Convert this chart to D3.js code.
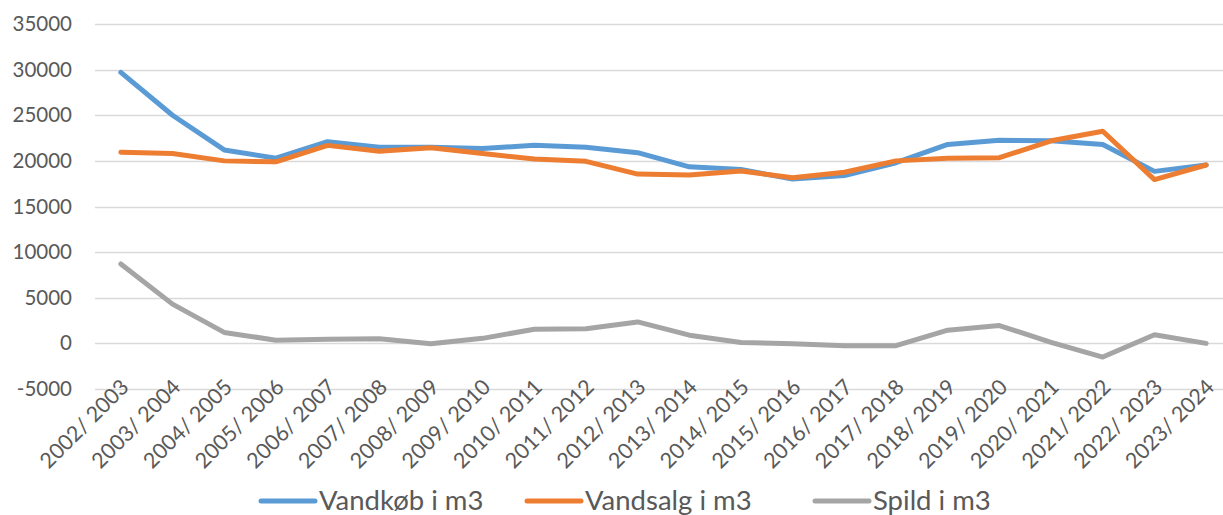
<!DOCTYPE html>
<html>
<head>
<meta charset="utf-8">
<script src="https://cdn.jsdelivr.net/npm/d3@7"></script>
<style>
  body { margin: 0; background: #fff; }
  svg text { font-family: Lato, "Open Sans", sans-serif; fill: #595959; }
</style>
</head>
<body>
<div id="chart"></div>
<script>
var seasons = ["2002/ 2003", "2003/ 2004", "2004/ 2005", "2005/ 2006", "2006/ 2007", "2007/ 2008",
  "2008/ 2009", "2009/ 2010", "2010/ 2011", "2011/ 2012", "2012/ 2013", "2013/ 2014", "2014/ 2015",
  "2015/ 2016", "2016/ 2017", "2017/ 2018", "2018/ 2019", "2019/ 2020", "2020/ 2021", "2021/ 2022",
  "2022/ 2023", "2023/ 2024"];
var vandkob = [29700, 25000, 21200, 20300, 22100, 21500, 21500, 21350, 21700, 21500, 20900, 19350,
  19050, 18000, 18400, 19800, 21800, 22250, 22200, 21800, 18850, 19550];
var vandsalg = [20950, 20800, 20000, 19900, 21700, 21050, 21450, 20800, 20200, 19950, 18550, 18450,
  18900, 18150, 18750, 20000, 20300, 20350, 22200, 23250, 17950, 19550];
var spild = [8700, 4300, 1200, 350, 450, 500, -50, 550, 1550, 1600, 2350, 900,
  100, -50, -250, -250, 1450, 1950, 100, -1500, 950, 0];
var yTicks = [-5000, 0, 5000, 10000, 15000, 20000, 25000, 30000, 35000];
var seriesNames = ["Vandkøb i m3", "Vandsalg i m3", "Spild i m3"];
var seriesColors = ["#5B9BD5", "#ED7D31", "#A5A5A5"];

var width = 1223, height = 515;
var plot = { left: 95, right: 1232, top: 24, bottom: 389 };

var svg = d3.select("#chart").append("svg")
  .attr("width", width)
  .attr("height", height);

var x = d3.scaleBand()
  .domain(seasons)
  .range([plot.left, plot.right]);
var y = d3.scaleLinear()
  .domain([-5000, 35000])
  .range([plot.bottom, plot.top]);

// horizontal gridlines
svg.append("g")
  .selectAll("line")
  .data(yTicks)
  .enter().append("line")
  .attr("x1", plot.left)
  .attr("x2", width)
  .attr("y1", function (d) { return Math.round(y(d)) + 0.5; })
  .attr("y2", function (d) { return Math.round(y(d)) + 0.5; })
  .attr("stroke", "#D9D9D9")
  .attr("stroke-width", 1.5);

// y axis labels
var yAxis = d3.axisLeft(y)
  .tickValues(yTicks)
  .tickFormat(function (d) { return String(d); })
  .tickSize(0)
  .tickPadding(0);
var yg = svg.append("g")
  .attr("transform", "translate(72,0)")
  .call(yAxis);
yg.select(".domain").remove();
yg.attr("font-family", null).attr("font-size", null);
yg.selectAll("text")
  .attr("fill", null)
  .style("font-size", "20.5px");

// x axis labels, rotated
var xg = svg.append("g")
  .attr("transform", "translate(0,361)")
  .call(d3.axisBottom(x).tickSize(0).tickPadding(0));
xg.select(".domain").remove();
xg.attr("font-family", null).attr("font-size", null);
xg.selectAll("text")
  .attr("fill", null)
  .attr("x", 0)
  .attr("y", 0)
  .attr("dy", "0.35em")
  .style("font-size", "21.5px")
  .style("text-anchor", "end")
  .attr("transform", "translate(4,22) rotate(-45)");

var line = d3.line()
  .x(function (d, i) { return x(seasons[i]) + x.bandwidth() / 2; })
  .y(function (d) { return y(d); });

[vandkob, vandsalg, spild].forEach(function (vals, k) {
  svg.append("path")
    .datum(vals)
    .attr("fill", "none")
    .attr("stroke", seriesColors[k])
    .attr("stroke-width", 5)
    .attr("stroke-linejoin", "round")
    .attr("stroke-linecap", "round")
    .attr("d", line);
});

// legend
var legendX = [261, 527, 815];
var legend = svg.append("g");
seriesNames.forEach(function (name, k) {
  legend.append("line")
    .attr("x1", legendX[k])
    .attr("x2", legendX[k] + 54)
    .attr("y1", 501)
    .attr("y2", 501)
    .attr("stroke", seriesColors[k])
    .attr("stroke-width", 5)
    .attr("stroke-linecap", "round");
  legend.append("text")
    .attr("x", legendX[k] + 58)
    .attr("y", 510)
    .style("font-size", "27.5px")
    .text(name);
});
</script>
</body>
</html>
